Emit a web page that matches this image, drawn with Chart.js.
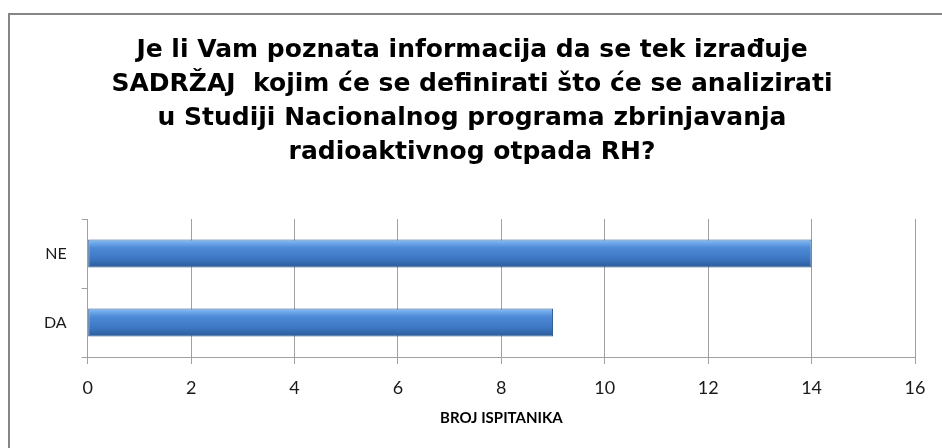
<!DOCTYPE html>
<html>
<head>
<meta charset="utf-8">
<script src="https://cdn.jsdelivr.net/npm/chart.js@4/dist/chart.umd.min.js"></script>
<style>
  html, body { margin: 0; padding: 0; background: #fff; }
  #wrap { position: relative; width: 942px; height: 448px; overflow: hidden; }
  #frame { position: absolute; left: 8px; top: 13px; width: 960px; height: 460px;
           border-top: 2px solid #868686; border-left: 2px solid #868686; }
  canvas { position: absolute; left: 0; top: 0; }
</style>
</head>
<body>
<div id="wrap">
  <div id="frame"></div>
  <canvas id="myChart" width="942" height="448"></canvas>
</div>
<script>
var categories = ['DA', 'NE'];
var odgovori = [9, 14];
var xTicks = [0, 2, 4, 6, 8, 10, 12, 14, 16];
var naslov = [
  'Je li Vam poznata informacija da se tek izrađuje',
  'SADRŽAJ  kojim će se definirati što će se analizirati',
  'u Studiji Nacionalnog programa zbrinjavanja',
  'radioaktivnog otpada RH?'
];
var osX = 'BROJ ISPITANIKA';

// plavi gradijent za 3D izgled stupca
function barFill(context) {
  var chart = context.chart;
  if (!chart.chartArea) return '#4a84cc';
  var y = chart.scales.y.getPixelForValue(context.dataIndex);
  var h = 14;
  var g = chart.ctx.createLinearGradient(0, y - h, 0, y + h);
  g.addColorStop(0, '#8fc2f4');
  g.addColorStop(0.12, '#6ea8ea');
  g.addColorStop(0.3, '#4d8ad6');
  g.addColorStop(0.7, '#3c76c2');
  g.addColorStop(1, '#2a5a98');
  return g;
}

var ctx = document.getElementById('myChart');

var myChart = new Chart(ctx, {
  type: 'bar',
  data: {
    labels: categories,
    datasets: [{
      label: osX,
      data: odgovori,
      backgroundColor: barFill,
      borderColor: '#2b5890',
      borderWidth: 1,
      borderSkipped: false,
      categoryPercentage: 0.8,
      barPercentage: 0.51
    }]
  },
  options: {
    indexAxis: 'y',
    responsive: false,
    animation: false,
    layout: { padding: { top: 33, left: 29, right: 27, bottom: 22 } },
    plugins: {
      legend: { display: false },
      tooltip: { enabled: false },
      title: {
        display: true,
        text: naslov,
        color: '#000',
        font: { family: 'DejaVu Sans', size: 25, weight: 'bold', lineHeight: 1.36 },
        padding: { top: 0, bottom: 50 }
      }
    },
    scales: {
      x: {
        min: 0,
        max: 16,
        afterBuildTicks: function (axis) {
          axis.ticks = xTicks.map(function (v) { return { value: v }; });
        },
        grid: { color: '#a0a0a0', tickLength: 7, lineWidth: 1 },
        border: { color: '#a0a0a0' },
        ticks: {
          color: '#1a1a1a',
          padding: 15,
          font: { family: 'Lato', size: 18, lineHeight: 1 }
        },
        title: {
          display: true,
          text: osX,
          color: '#000',
          font: { family: 'Lato', size: 15, weight: 'bold', lineHeight: 1 },
          padding: { top: -1, bottom: 0 }
        }
      },
      y: {
        reverse: true,
        grid: { drawOnChartArea: false, offset: true, color: '#a0a0a0', tickLength: 6 },
        border: { color: '#a0a0a0' },
        ticks: {
          color: '#1a1a1a',
          padding: 15,
          font: { family: 'Lato', size: 16 }
        }
      }
    }
  }
});
</script>
</body>
</html>
